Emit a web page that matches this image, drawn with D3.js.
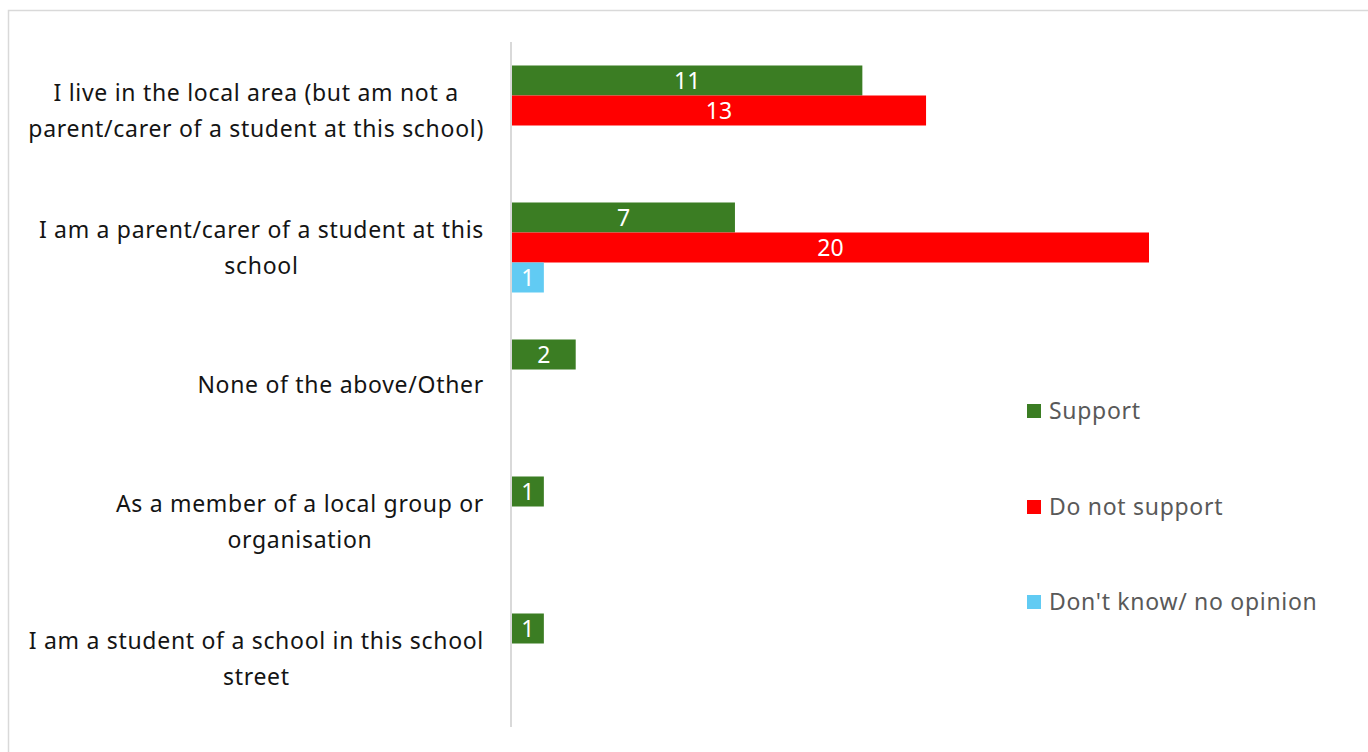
<!DOCTYPE html>
<html>
<head>
<meta charset="utf-8">
<script src="https://cdn.jsdelivr.net/npm/d3@7"></script>
<style>
  body { margin: 0; background: #fff; }
  svg { font-family: "Noto Sans", sans-serif; }
</style>
</head>
<body>
<svg id="chart" width="1368" height="752"></svg>
<script>
var categories = [
  ["I live in the local area (but am not a", "parent/carer of a student at this school)"],
  ["I am a parent/carer of a student at this", "school"],
  ["None of the above/Other"],
  ["As a member of a local group or", "organisation"],
  ["I am a student of a school in this school", "street"]
];
var seriesNames = ["Support", "Do not support", "Don't know/ no opinion"];
var support = [11, 7, 2, 1, 1];
var notSupport = [13, 20, null, null, null];
var dontKnow = [null, 1, null, null, null];
var colors = ["#3b7d23", "#ff0000", "#61cbf3"];

var svg = d3.select("#chart"),
    width = 1368,
    height = 752;

// outer frame
svg.append("rect")
    .attr("x", 8.5).attr("y", 10.5)
    .attr("width", width).attr("height", height)
    .attr("fill", "#fff")
    .attr("stroke", "#d9d9d9")
    .attr("stroke-width", 1.5);

var x = d3.scaleLinear().domain([0, 20]).range([512, 1149]);
var y = d3.scaleBand()
    .domain(d3.range(categories.length))
    .range([42, 727])
    .paddingInner(0.343)
    .paddingOuter(0.1715);
var ySub = d3.scaleBand().domain(d3.range(seriesNames.length)).range([0, y.bandwidth()]);

var allSeries = [support, notSupport, dontKnow];
var bars = [];
allSeries.forEach(function(vals, s) {
  vals.forEach(function(v, i) {
    if (v != null) bars.push({cat: i, s: s, v: v});
  });
});

var g = svg.append("g");
g.selectAll("rect.bar")
    .data(bars)
    .enter()
    .append("rect")
    .attr("class", "bar")
    .attr("x", x(0))
    .attr("y", function(d) { return y(d.cat) + ySub(d.s); })
    .attr("width", function(d) { return x(d.v) - x(0); })
    .attr("height", ySub.bandwidth())
    .attr("fill", function(d) { return colors[d.s]; });

g.selectAll("text.val")
    .data(bars)
    .enter()
    .append("text")
    .attr("class", "val")
    .attr("x", function(d) { return (x(0) + x(d.v)) / 2; })
    .attr("y", function(d) { return y(d.cat) + ySub(d.s) + ySub.bandwidth() / 2; })
    .attr("dy", "0.36em")
    .attr("text-anchor", "middle")
    .attr("fill", "#fff")
    .style("font-size", "23px")
    .text(function(d) { return d.v; });

// axis line
svg.append("line")
    .attr("x1", 511).attr("x2", 511)
    .attr("y1", y.range()[0]).attr("y2", y.range()[1])
    .attr("stroke", "#d9d9d9")
    .attr("stroke-width", 2);

// category labels, lines centred, block right aligned
var lineH = 36;
var labels = svg.selectAll("g.cat")
    .data(categories)
    .enter()
    .append("g")
    .attr("class", "cat");
labels.each(function(lines, i) {
  var grp = d3.select(this);
  var cy = y(i) + y.bandwidth() / 2;
  var texts = grp.selectAll("text")
      .data(lines)
      .enter()
      .append("text")
      .attr("text-anchor", "middle")
      .attr("fill", "#141414")
      .style("font-size", "23px")
      .style("letter-spacing", "0.7px")
      .attr("y", function(d, k) { return cy + (k - (lines.length - 1) / 2) * lineH; })
      .attr("dy", "0.36em")
      .text(function(d) { return d; });
  var maxW = d3.max(texts.nodes(), function(n) { return n.getComputedTextLength(); });
  texts.attr("x", 484 - maxW / 2);
});

// legend
var legendY = [411, 507, 602];
var legend = svg.selectAll("g.legend")
    .data(seriesNames)
    .enter()
    .append("g")
    .attr("class", "legend")
    .attr("transform", function(d, i) { return "translate(1027," + legendY[i] + ")"; });
legend.append("rect")
    .attr("x", 0).attr("y", -7)
    .attr("width", 14).attr("height", 14)
    .attr("fill", function(d, i) { return colors[i]; });
legend.append("text")
    .attr("x", 22)
    .attr("dy", "0.36em")
    .attr("fill", "#595959")
    .style("font-size", "23px")
    .style("letter-spacing", "0.7px")
    .text(function(d) { return d; });
</script>
</body>
</html>
